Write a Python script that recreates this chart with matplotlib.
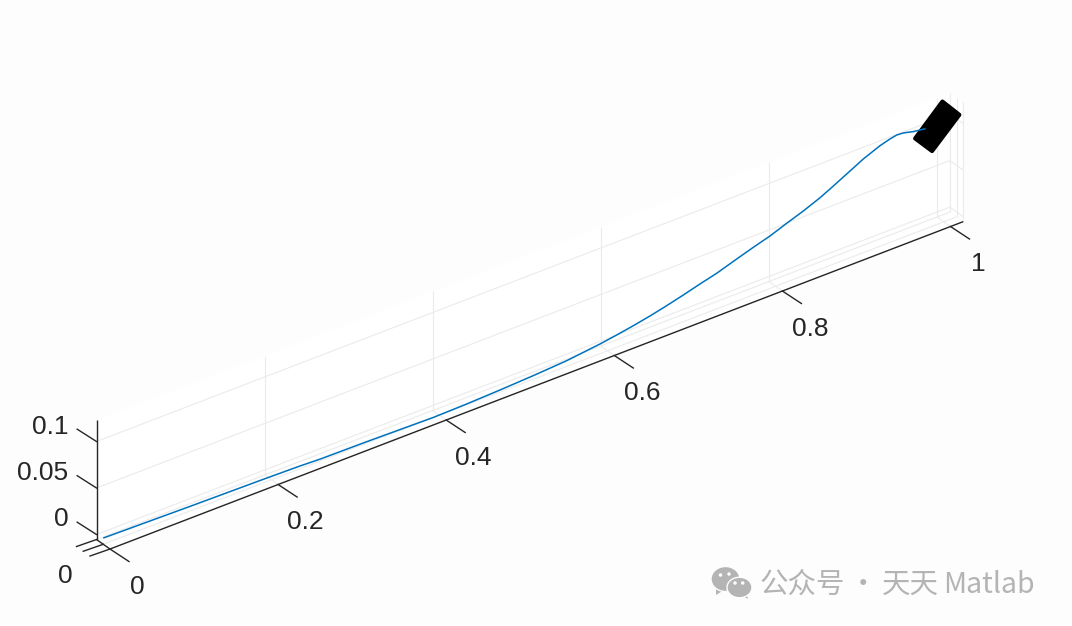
import matplotlib
matplotlib.use('Agg')
import matplotlib.pyplot as plt
from matplotlib.patches import Polygon, Ellipse
import numpy as np

# blue path
path_x = [0.0, 0.0996, 0.1916, 0.2341, 0.2579, 0.3134, 0.3927, 0.4324, 0.4720, 0.5117, 0.5514,
          0.5910, 0.6109, 0.6306, 0.6505, 0.6704, 0.6901, 0.7100, 0.7299, 0.7537, 0.7734,
          0.7933, 0.8132, 0.8329, 0.8528, 0.8647, 0.8845, 0.9043, 0.9242, 0.9360, 0.9440,
          0.9519, 0.9638, 0.9785]
path_z = [0.0013, -0.0004, -0.0016, -0.0024, -0.0033, -0.0038, -0.0052, -0.0045, -0.0032, -0.0015, 0.0008,
          0.0050, 0.0078, 0.0109, 0.0145, 0.0187, 0.0233, 0.0283, 0.0329, 0.0400, 0.0457,
          0.0510, 0.0578, 0.0641, 0.0715, 0.0768, 0.0860, 0.0953, 0.1027, 0.1058, 0.1073,
          0.1068, 0.1041, 0.1022]

# black body at the end of the path
body_x = [0.9984, 1.0185, 0.9861, 0.9660]
body_z = [0.1244, 0.1032, 0.0755, 0.0960]

x_ticks = [0, 0.2, 0.4, 0.6, 0.8, 1]
x_labels = ['0', '0.2', '0.4', '0.6', '0.8', '1']
y_ticks = [-1, 0, 1]
z_ticks = [0, 0.05, 0.1]
z_labels = ['0', '0.05', '0.1']

x_lim = (0, 1.0152)
y_lim = (-1, 1)
z_lim = (-0.0054, 0.1228)

BG = '#fdfdfd'
AXC = '#262626'
GRID = '#ebebeb'
BLUE = '#0072BD'
WM = '#b4b4b4'
SANS = 'Liberation Sans'
CJK = ['Noto Sans CJK SC', 'DejaVu Sans']


def proj(x, y, z):
    # orthographic view, so the projection is just three axis vectors in pixels
    x, y, z = np.asarray(x, float), np.asarray(y, float), np.asarray(z, float)
    px = 103.25 + 840.5 * x + 6.75 * y
    py = 539.25 - 322.5 * x + 4.75 * y - 930 * z
    return px, py


def line3(ax, x, y, z, **kw):
    px, py = proj(x, y, z)
    ax.plot(px, py, solid_capstyle='butt', **kw)


def wall(ax, x, y, z):
    px, py = proj(x, y, z)
    ax.add_patch(Polygon(np.c_[px, py], closed=True, fc='white', ec='none', zorder=0))


def main():
    fig = plt.figure(figsize=(10.72, 6.26), dpi=100, facecolor=BG)
    ax = fig.add_axes([0, 0, 1, 1])
    ax.set_xlim(0, 1072)
    ax.set_ylim(626, 0)
    ax.axis('off')

    x0, x1 = x_lim
    y0, y1 = y_lim
    z0, z1 = z_lim

    # walls
    wall(ax, [x0, x1, x1, x0], [y0] * 4, [z0, z0, z1, z1])
    wall(ax, [x1, x1, x1, x1], [y0, y1, y1, y0], [z0, z0, z1, z1])
    wall(ax, [x0, x1, x1, x0], [y0, y0, y1, y1], [z0] * 4)

    gkw = dict(color=GRID, lw=0.8, zorder=1)
    for xt in x_ticks:
        line3(ax, [xt, xt], [y0, y0], [z0, z1], **gkw)
        line3(ax, [xt, xt], [y0, y1], [z0, z0], **gkw)
    for zt in z_ticks:
        line3(ax, [x0, x1], [y0, y0], [zt, zt], **gkw)
        line3(ax, [x1, x1], [y0, y1], [zt, zt], **gkw)
    for yt in y_ticks:
        line3(ax, [x0, x1], [yt, yt], [z0, z0], **gkw)
        line3(ax, [x1, x1], [yt, yt], [z0, z1], **gkw)

    # axis lines
    akw = dict(color=AXC, lw=1.0, zorder=3)
    line3(ax, [x0, x1], [y1, y1], [z0, z0], **akw)
    line3(ax, [x0, x0], [y0, y1], [z0, z0], **akw)
    line3(ax, [x0, x0], [y0, y0], [z0, z1], **akw)

    # ticks and labels
    for xt, lab in zip(x_ticks, x_labels):
        px, py = proj(xt, y1, z0)
        ax.plot([px, px + 19], [py, py + 12.5], **akw)
        ax.text(px + 27.5, py + 44.5, lab, ha='center', va='baseline', color=AXC,
                fontsize=19, family=SANS)
    for yt in y_ticks:
        px, py = proj(x0, yt, z0)
        ax.plot([px, px - 20], [py, py + 7], **akw)
    px, py = proj(x0, 0, z0)
    ax.text(px - 38, py + 38.5, '0', ha='center', va='baseline', color=AXC,
            fontsize=19, family=SANS)
    for zt, lab in zip(z_ticks, z_labels):
        px, py = proj(x0, y0, zt)
        ax.plot([px, px - 19.3], [py, py - 12.3], **akw)
        ax.text(68.5, py - 8, lab, ha='right', va='baseline', color=AXC,
                fontsize=19, family=SANS)

    # body then path on top
    bx, by = proj(body_x, [0] * 4, body_z)
    ax.add_patch(Polygon(np.c_[bx, by], closed=True, fc='black', ec='black', lw=3,
                         joinstyle='round', zorder=4))
    line3(ax, path_x, [0] * len(path_x), path_z, color=BLUE, lw=1.1, zorder=5)

    # watermark
    ax.add_patch(Polygon([(716, 588), (716, 595), (724, 590)], fc=WM, ec='none', zorder=6))
    ax.add_patch(Polygon([(741, 595), (748, 599), (746, 592)], fc=WM, ec='none', zorder=6))
    for cx, cy, w, h in [(725.5, 579, 29, 25), (739.5, 587.5, 25, 20.5)]:
        ax.add_patch(Ellipse((cx, cy), w, h, fc=WM, ec=BG, lw=1, zorder=6))
    for ex, ey in [(720.5, 575), (729, 574), (735, 583), (742.7, 583)]:
        ax.add_patch(Ellipse((ex, ey), 3.5, 3.5, fc=BG, ec='none', zorder=7))
    for tx, s, ha in [(760, '公众号', 'left'), (863, '·', 'center'), (882, '天天', 'left'),
                      (943, 'Matlab', 'left')]:
        ax.text(tx, 593, s, ha=ha, va='baseline', color=WM, fontsize=20.5,
                family=CJK, zorder=6)

    fig.savefig('out.png', dpi=100, facecolor=BG)


if __name__ == '__main__':
    main()
